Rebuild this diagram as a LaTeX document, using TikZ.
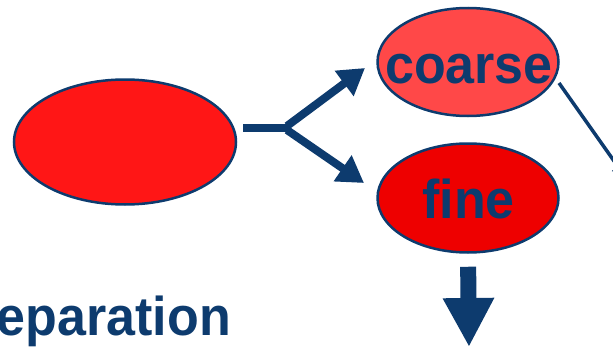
\documentclass[tikz,border=0pt]{standalone}
\usepackage{fontspec}
\setmainfont{Liberation Sans}
\usetikzlibrary{arrows.meta,shapes.geometric,calc}
\definecolor{navy}{HTML}{0D3B6E}
\definecolor{bigred}{HTML}{FF1616}
\definecolor{lightred}{HTML}{FF4848}
\definecolor{finered}{HTML}{EE0000}
\tikzset{
  blob/.style={ellipse, draw=navy, line width=2.5pt, inner sep=0pt},
  bigtext/.style={text=navy, inner sep=0pt, font=\bfseries\fontsize{52}{52}\selectfont},
  thickarrow/.style={draw=navy, line width=8pt, -{Triangle[length=26pt,width=30pt]}},
  thinarrow/.style={draw=navy, line width=3.5pt, -{Triangle[length=14pt,width=14pt]}},
  blockarrow/.style={draw=navy, line width=16pt, -{Triangle[length=49pt,width=48pt]}},
}
\begin{document}
\begin{tikzpicture}[x=1pt,y=-1pt]
\useasboundingbox (0,0) rectangle (613,348);
\node[blob, fill=bigred, minimum width=222pt, minimum height=125pt] (src) at (125,142) {};
\node[blob, fill=lightred, minimum width=181pt, minimum height=108pt] (coarse) at (468,62) {};
\node[blob, fill=finered, minimum width=181pt, minimum height=109pt] (fine) at (468,198) {};
\node[bigtext, anchor=base, yscale=1.05] (coarselbl) at (469,83) {coarse};
\node[bigtext, anchor=base, yscale=1.05] (finelbl) at (468.5,218) {fine};
\coordinate (J) at (290,128);
\coordinate (out) at (626,178);
\coordinate (down) at (469,347);
\draw[draw=navy, line width=8pt] (src.east |- J) ++(6,0) -- (J);
\draw[thickarrow] ($(J)+(-3,-2)$) -- (365,68);
\draw[thickarrow] ($(J)+(-3,2)$) -- (364,183);
\draw[thinarrow] (559,83) -- (out);
\draw[blockarrow, shorten <=13pt] (fine.south) -- (down);
\node[bigtext, anchor=base east, yscale=1.05] (sep) at (231,335) {eparation};
\end{tikzpicture}
\end{document}
